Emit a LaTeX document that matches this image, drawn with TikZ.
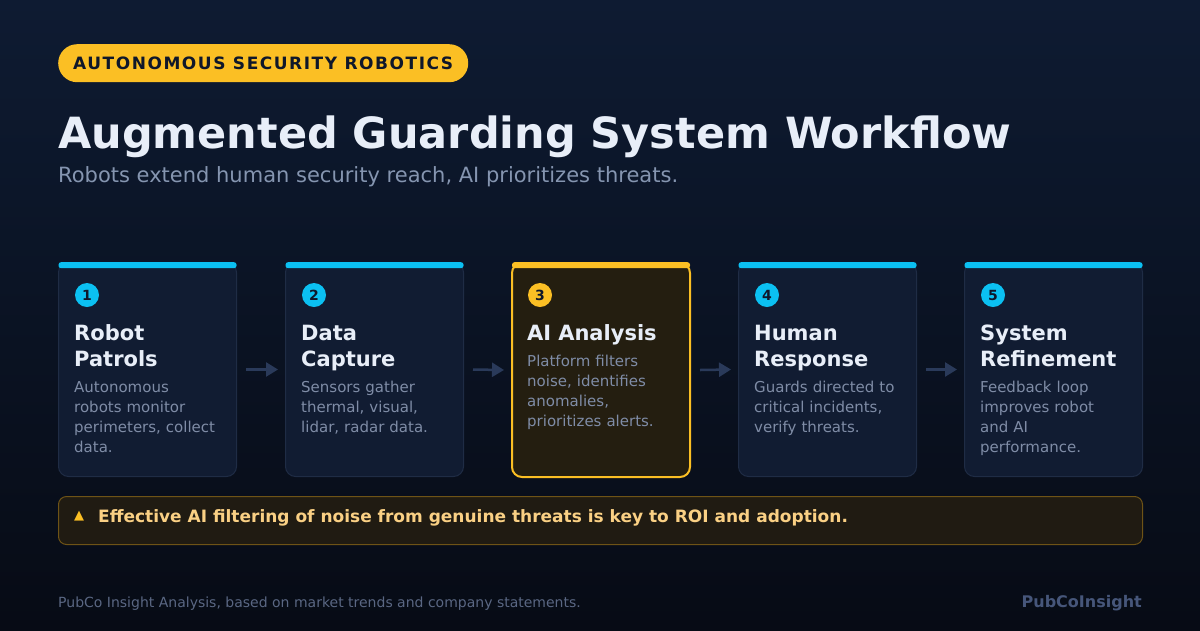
\documentclass[tikz,border=0pt]{standalone}
\usepackage{fontspec}
\setmainfont{DejaVu Sans}
\usepackage{xcolor}
\usetikzlibrary{arrows.meta,positioning}
\definecolor{bgtop}{HTML}{0E1B32}
\definecolor{bgbottom}{HTML}{070B15}
\definecolor{amber}{HTML}{FBBF24}
\definecolor{ink}{HTML}{0F172A}
\definecolor{headtext}{HTML}{E8EEF8}
\definecolor{subtext}{HTML}{8595B0}
\definecolor{desctext}{HTML}{7F8CA6}
\definecolor{cardfill}{HTML}{111C32}
\definecolor{cardline}{HTML}{1F2C45}
\definecolor{hotfill}{HTML}{241E10}
\definecolor{cyanacc}{HTML}{0BC0F2}
\definecolor{arrowcol}{HTML}{2A3A5A}
\definecolor{notefill}{HTML}{201B12}
\definecolor{noteline}{HTML}{6E5316}
\definecolor{notetext}{HTML}{FAD084}
\definecolor{footgray}{HTML}{5A6783}
\definecolor{brandgray}{HTML}{46567A}
\tikzset{
	>=Latex,
	card/.style={
		draw=cardline,
		fill=cardfill,
		line width=1pt,
		rounded corners=10pt,
		minimum width=178pt,
		minimum height=214pt,
		inner sep=0pt,
		anchor=north west
	},
	hotcard/.style={
		card,
		draw=amber,
		fill=hotfill,
		line width=2pt
	},
	topbar/.style={
		fill=cyanacc,
		rounded corners=2.5pt,
		minimum width=178pt,
		minimum height=6pt,
		inner sep=0pt,
		anchor=north
	},
	numdot/.style={
		circle,
		fill=cyanacc,
		minimum size=24pt,
		inner sep=0pt,
		text=ink,
		font=\fontsize{14}{14}\selectfont\bfseries
	},
	cardtitle/.style={
		anchor=base west,
		inner sep=0pt,
		text width=170pt,
		align=left,
		text=headtext,
		font=\fontsize{21}{26}\selectfont\bfseries
	},
	carddesc/.style={
		anchor=base west,
		inner sep=0pt,
		text width=170pt,
		align=left,
		text=desctext,
		font=\fontsize{15}{20}\selectfont
	},
	flow/.style={
		-{Triangle[length=12pt,width=14pt]},
		line width=2.5pt,
		draw=arrowcol
	}
}

\begin{document}
\begin{tikzpicture}[x=1pt,y=-1pt]
	
	% Background
	\fill[top color=bgtop,bottom color=bgbottom] (0,0) rectangle (1200,630);
	\useasboundingbox (0,0) rectangle (1200,630);
	
	% Header
	\node[fill=amber,rounded corners=19pt,minimum height=38pt,inner xsep=15pt,inner ysep=0pt,anchor=north west,text=ink,font=\fontsize{17}{17}\selectfont\bfseries\addfontfeatures{LetterSpace=9}] (tag) at (58,44) {AUTONOMOUS SECURITY ROBOTICS};
	\node[anchor=base west,inner sep=0pt,text=headtext,font=\fontsize{43}{43}\selectfont\bfseries] (title) at (58,148) {Augmented Guarding System Workflow};
	\node[anchor=base west,inner sep=0pt,text=subtext,font=\fontsize{21}{21}\selectfont] (subtitle) at (58,182) {Robots extend human security reach, AI prioritizes threats.};
	
	% Step 1
	\node[card] (c1) at (58,262) {};
	\node[topbar] at (c1.north) {};
	\node[numdot] (n1) at (87,295) {1};
	\node[cardtitle] (t1) at (74,340) {Robot\\Patrols};
	\node[carddesc] (d1) at (74,392) {Autonomous\\robots monitor\\perimeters, collect\\data.};
	
	% Step 2
	\node[card] (c2) at (285,262) {};
	\node[topbar] at (c2.north) {};
	\node[numdot] (n2) at (314,295) {2};
	\node[cardtitle] (t2) at (301,340) {Data\\Capture};
	\node[carddesc] (d2) at (301,392) {Sensors gather\\thermal, visual,\\lidar, radar data.};
	
	% Step 3 (highlighted)
	\node[hotcard] (c3) at (511,262) {};
	\node[topbar,fill=amber] at (c3.north) {};
	\node[numdot,fill=amber] (n3) at (540,295) {3};
	\node[cardtitle] (t3) at (527,340) {AI Analysis};
	\node[carddesc] (d3) at (527,366) {Platform filters\\noise, identifies\\anomalies,\\prioritizes alerts.};
	
	% Step 4
	\node[card] (c4) at (738,262) {};
	\node[topbar] at (c4.north) {};
	\node[numdot] (n4) at (767,295) {4};
	\node[cardtitle] (t4) at (754,340) {Human\\Response};
	\node[carddesc] (d4) at (754,392) {Guards directed to\\critical incidents,\\verify threats.};
	
	% Step 5
	\node[card] (c5) at (964,262) {};
	\node[topbar] at (c5.north) {};
	\node[numdot] (n5) at (993,295) {5};
	\node[cardtitle] (t5) at (980,340) {System\\Refinement};
	\node[carddesc] (d5) at (980,392) {Feedback loop\\improves robot\\and AI\\performance.};
	
	% Flow arrows
	\draw[flow] ([xshift=9pt]c1.east) -- ([xshift=-7pt]c2.west);
	\draw[flow] ([xshift=9pt]c2.east) -- ([xshift=-7pt]c3.west);
	\draw[flow] ([xshift=9pt]c3.east) -- ([xshift=-7pt]c4.west);
	\draw[flow] ([xshift=9pt]c4.east) -- ([xshift=-7pt]c5.west);
	
	% Key insight
	\node[draw=noteline,fill=notefill,line width=1pt,rounded corners=8pt,minimum width=1084pt,minimum height=48pt,inner sep=0pt,anchor=north west] (note) at (58,496) {};
	\node[inner sep=0pt,text=amber,font=\fontsize{13}{13}\selectfont] (warn) at (79,516) {▲};
	\node[anchor=base west,inner sep=0pt,text=notetext,font=\fontsize{17}{17}\selectfont\bfseries] (notemsg) at (98,522) {Effective AI filtering of noise from genuine threats is key to ROI and adoption.};
	
	% Footer
	\node[anchor=base west,inner sep=0pt,text=footgray,font=\fontsize{14}{14}\selectfont] (source) at (58,607) {PubCo Insight Analysis, based on market trends and company statements.};
	\node[anchor=base east,inner sep=0pt,text=brandgray,font=\fontsize{16}{16}\selectfont\bfseries] (brand) at (1142,607) {PubCoInsight};
	
\end{tikzpicture}
\end{document}
